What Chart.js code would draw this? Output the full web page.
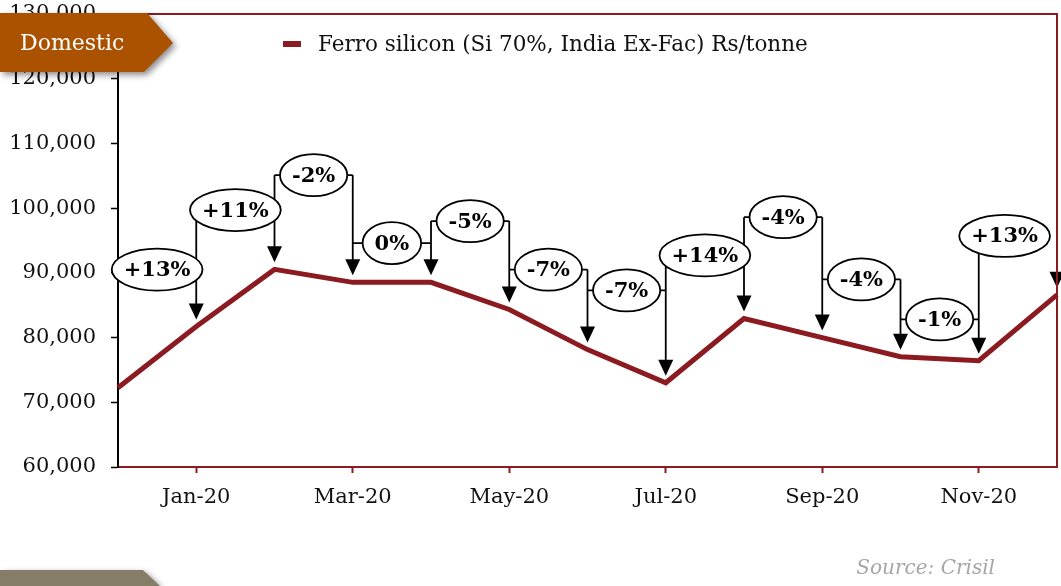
<!DOCTYPE html>
<html lang="en">
<head>
  <meta charset="UTF-8">
  <title>Ferro silicon - Domestic</title>
  <style>
    body { margin: 0; padding: 0; background: #fff; }
    .wrap { position: relative; width: 1061px; height: 586px; }
  </style>
</head>
<body>
  <div class="wrap"><canvas id="fesiChart"></canvas></div>

  <script src="https://cdn.jsdelivr.net/npm/chart.js"></script>
  <script>
    // Data
    const months = ['Dec-19', 'Jan-20', 'Feb-20', 'Mar-20', 'Apr-20', 'May-20', 'Jun-20',
                    'Jul-20', 'Aug-20', 'Sep-20', 'Oct-20', 'Nov-20', 'Dec-20'];
    const prices = [72250, 81700, 90540, 88530, 88530, 84340, 78140,
                    73020, 82950, 80000, 77050, 76430, 86600];
    // month-on-month change callouts, and the price level each callout sits at
    const changeLabels = ['+13%', '+11%', '-2%', '0%', '-5%', '-7%', '-7%',
                          '+14%', '-4%', '-4%', '-1%', '+13%'];
    const calloutLevels = [90500, 99700, 105100, 94600, 98000, 90500, 87300,
                           92700, 98600, 89000, 82800, 95700];
    const seriesName = 'Ferro silicon (Si 70%, India Ex-Fac) Rs/tonne';

    const RED = '#8B1A21';
    const SERIF = '"DejaVu Serif", Georgia, serif';

    // Arrows + ellipse labels
    const calloutPlugin = {
      id: 'callouts',
      afterDatasetsDraw(chart) {
        const { ctx, chartArea, scales: { x, y } } = chart;
        const px = i => x.getPixelForValue(i);
        const levelPx = calloutLevels.map(v => y.getPixelForValue(v));
        ctx.save();
        ctx.strokeStyle = '#000';
        ctx.fillStyle = '#000';
        ctx.lineWidth = 1.8;

        // vertical arrows down to each month's point
        for (let i = 1; i < months.length; i++) {
          const above = i < levelPx.length ? levelPx[i] : Infinity;
          let top = Math.min(levelPx[i - 1], above);
          if (i === months.length - 1) top += 10; // last one hangs off the oval's lower edge
          const tip = y.getPixelForValue(prices[i]) - 7;
          const xi = px(i);
          ctx.beginPath();
          ctx.moveTo(xi, top);
          ctx.lineTo(xi, tip - 12);
          ctx.stroke();
          ctx.beginPath();
          ctx.moveTo(xi - 7.5, tip - 16);
          ctx.lineTo(xi + 7.5, tip - 16);
          ctx.lineTo(xi, tip);
          ctx.closePath();
          ctx.fill();
        }

        // ellipses with the % change
        ctx.font = 'bold 21px ' + SERIF;
        ctx.textAlign = 'center';
        ctx.textBaseline = 'middle';
        changeLabels.forEach((txt, k) => {
          const x0 = px(k), x1 = px(k + 1), cy = levelPx[k];
          const rx = ctx.measureText(txt).width / 2 + 12;
          const mid = (x0 + x1) / 2;
          const cx = Math.min(mid, chartArea.right - rx - 7);
          const stubEnd = cx < mid ? cx : x1; // shifted oval: no stub to the right
          ctx.beginPath();
          ctx.moveTo(x0, cy);
          ctx.lineTo(stubEnd, cy);
          ctx.stroke();
          ctx.beginPath();
          ctx.ellipse(cx, cy, rx, 21, 0, 0, Math.PI * 2);
          ctx.fillStyle = '#fff';
          ctx.fill();
          ctx.stroke();
          ctx.fillStyle = '#000';
          ctx.fillText(txt, cx, cy + 1);
        });
        ctx.restore();
      }
    };

    // Frame, legend, tags and source note
    const decorPlugin = {
      id: 'decor',
      afterDraw(chart) {
        const { ctx, chartArea: a } = chart;
        ctx.save();
        // top + right border in red
        ctx.strokeStyle = RED;
        ctx.lineWidth = 2;
        ctx.beginPath();
        ctx.moveTo(a.left - 8, a.top);
        ctx.lineTo(a.right, a.top);
        ctx.lineTo(a.right, a.bottom);
        ctx.stroke();

        // legend
        ctx.fillStyle = RED;
        ctx.fillRect(283, 41, 18, 6);
        ctx.fillStyle = '#111';
        ctx.font = '21.5px ' + SERIF;
        ctx.textAlign = 'left';
        ctx.textBaseline = 'middle';
        ctx.fillText(chart.data.datasets[0].label, 318, 45);

        // "Domestic" tag
        ctx.save();
        ctx.shadowColor = 'rgba(0,0,0,0.45)';
        ctx.shadowBlur = 6;
        ctx.shadowOffsetX = 3;
        ctx.shadowOffsetY = 3;
        ctx.fillStyle = '#AB5200';
        ctx.beginPath();
        ctx.moveTo(0, 13); ctx.lineTo(147, 13); ctx.lineTo(173, 43);
        ctx.lineTo(144, 72); ctx.lineTo(0, 72);
        ctx.closePath();
        ctx.fill();
        // bottom tag (cut off)
        ctx.fillStyle = '#857D68';
        ctx.beginPath();
        ctx.moveTo(0, 570); ctx.lineTo(143, 570); ctx.lineTo(160, 586);
        ctx.lineTo(0, 586);
        ctx.closePath();
        ctx.fill();
        ctx.restore();

        ctx.fillStyle = '#fff';
        ctx.font = '22px ' + SERIF;
        ctx.fillText('Domestic', 20, 44);

        // source
        ctx.fillStyle = '#A6A6A6';
        ctx.font = 'italic 20px ' + SERIF;
        ctx.textAlign = 'right';
        ctx.fillText('Source: Crisil', 995, 569);
        ctx.restore();
      }
    };

    const ctx = document.getElementById('fesiChart').getContext('2d');
    const fesiChart = new Chart(ctx, {
      type: 'line',
      data: {
        labels: months,
        datasets: [{
          label: seriesName,
          data: prices,
          borderColor: RED,
          borderWidth: 5,
          pointRadius: 0,
          tension: 0,
          fill: false
        }]
      },
      options: {
        responsive: true,
        maintainAspectRatio: false,
        animation: false,
        layout: { padding: { top: 14, right: 4, left: 0, bottom: 0 } },
        plugins: { legend: { display: false }, tooltip: { enabled: false } },
        scales: {
          x: {
            type: 'category',
            offset: false,
            ticks: {
              autoSkip: false, maxRotation: 0, color: '#111', padding: 12,
              font: { family: SERIF, size: 21 },
              callback: (v, i) => (i % 2 ? months[i] : '')
            },
            grid: {
              drawOnChartArea: false, tickLength: 6, tickWidth: 2,
              color: c => (c.index % 2 ? RED : 'rgba(0,0,0,0)')
            },
            border: { color: RED, width: 2 },
            afterFit: s => { s.height = 119; s.paddingLeft = 0; s.paddingRight = 0; }
          },
          y: {
            min: 60000,
            max: 130000,
            ticks: {
              stepSize: 10000, color: '#111', padding: 15,
              font: { family: SERIF, size: 21 },
              callback: v => v.toLocaleString('en-US')
            },
            grid: { drawOnChartArea: false, color: '#000', tickLength: 7, tickWidth: 1.5 },
            border: { color: '#000', width: 2 },
            afterFit: s => { s.width = 118; s.paddingTop = 0; s.paddingBottom = 0; }
          }
        }
      },
      plugins: [calloutPlugin, decorPlugin]
    });
  </script>
</body>
</html>
